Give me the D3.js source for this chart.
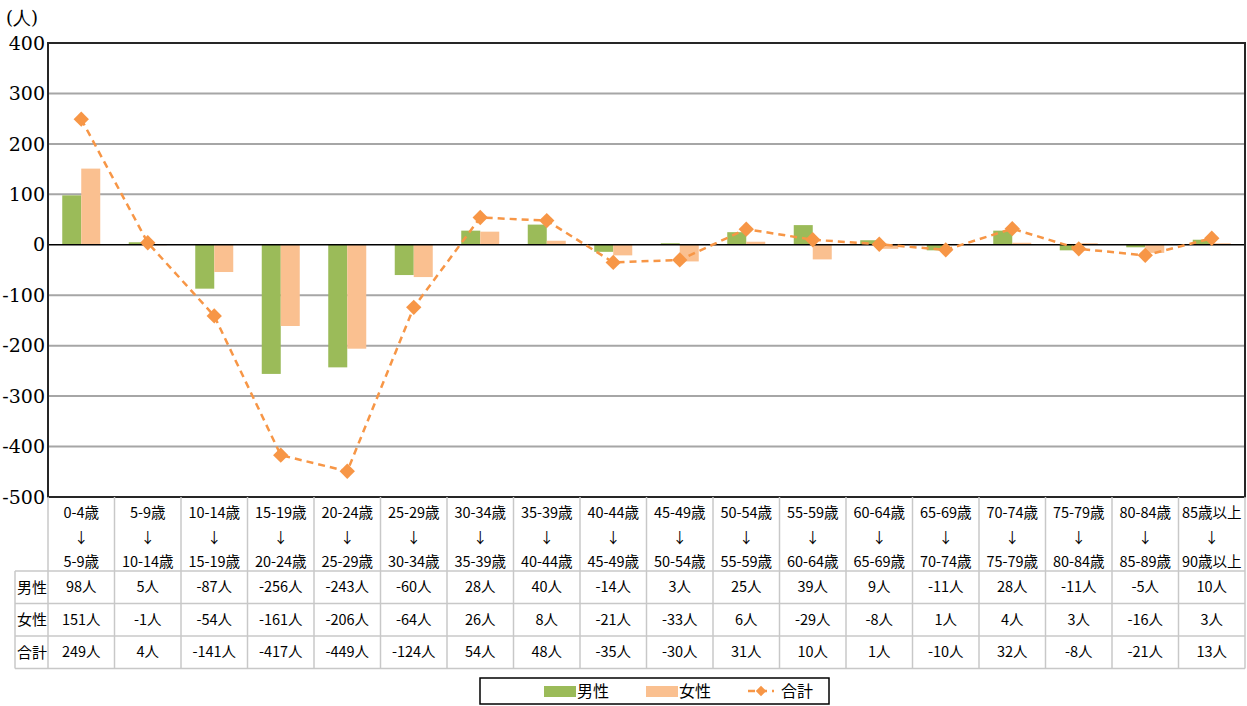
<!DOCTYPE html>
<html>
<head>
<meta charset="utf-8">
<script src="https://cdn.jsdelivr.net/npm/d3@7"></script>
<style>
  body { margin: 0; background: #fff; }
  svg { display: block; }
</style>
</head>
<body>
<svg id="chart" width="1247" height="706"></svg>
<script>
var categoriesFrom = ["0-4歳", "5-9歳", "10-14歳", "15-19歳", "20-24歳", "25-29歳", "30-34歳", "35-39歳", "40-44歳",
  "45-49歳", "50-54歳", "55-59歳", "60-64歳", "65-69歳", "70-74歳", "75-79歳", "80-84歳", "85歳以上"];
var categoriesTo = ["5-9歳", "10-14歳", "15-19歳", "20-24歳", "25-29歳", "30-34歳", "35-39歳", "40-44歳", "45-49歳",
  "50-54歳", "55-59歳", "60-64歳", "65-69歳", "70-74歳", "75-79歳", "80-84歳", "85-89歳", "90歳以上"];
var male = [98, 5, -87, -256, -243, -60, 28, 40, -14, 3, 25, 39, 9, -11, 28, -11, -5, 10];
var female = [151, -1, -54, -161, -206, -64, 26, 8, -21, -33, 6, -29, -8, 1, 4, 3, -16, 3];
var total = [249, 4, -141, -417, -449, -124, 54, 48, -35, -30, 31, 10, 1, -10, 32, -8, -21, 13];
var yTicks = [400, 300, 200, 100, 0, -100, -200, -300, -400, -500];
var rowNames = ["男性", "女性", "合計"];

var margin = { top: 43, right: 2, bottom: 209, left: 48 },
  width = 1247 - margin.left - margin.right,
  height = 706 - margin.top - margin.bottom;

var colGreen = "#9bbb59", colPeach = "#fac090", colLine = "#f79646";
var jp = "Noto Sans CJK JP";
var serifFont = "DejaVu Serif";

var svg = d3.select("#chart");
var g = svg.append("g").attr("transform", "translate(" + margin.left + "," + margin.top + ")");

var x = d3.scaleBand().domain(d3.range(categoriesFrom.length)).range([0, width]);
var y = d3.scaleLinear().domain([-500, 400]).range([height, 0]);
var barW = 19;

// gridlines
g.selectAll(".grid")
  .data(yTicks.filter(function(d) { return d !== 0 && d !== -500 && d !== 400; }))
  .enter().append("line")
  .attr("x1", 0).attr("x2", width)
  .attr("y1", function(d) { return y(d); }).attr("y2", function(d) { return y(d); })
  .attr("stroke", "#a6a6a6").attr("stroke-width", 2);

// y labels
g.selectAll(".ylab")
  .data(yTicks)
  .enter().append("text")
  .attr("font-family", serifFont)
  .attr("font-size", 19)
  .attr("x", -3)
  .attr("y", function(d) { return y(d); })
  .attr("dy", "0.35em")
  .attr("text-anchor", "end")
  .text(function(d) { return d; });

svg.append("text")
  .attr("font-family", serifFont)
  .attr("font-size", 18)
  .attr("x", 6).attr("y", 24)
  .text("(人)");

// bars
g.selectAll(".male")
  .data(male)
  .enter().append("rect")
  .attr("x", function(d, i) { return x(i) + x.bandwidth() / 2 - barW; })
  .attr("y", function(d) { return y(Math.max(0, d)); })
  .attr("width", barW)
  .attr("height", function(d) { return Math.abs(y(d) - y(0)); })
  .attr("fill", colGreen);

g.selectAll(".female")
  .data(female)
  .enter().append("rect")
  .attr("x", function(d, i) { return x(i) + x.bandwidth() / 2; })
  .attr("y", function(d) { return y(Math.max(0, d)); })
  .attr("width", barW)
  .attr("height", function(d) { return Math.abs(y(d) - y(0)); })
  .attr("fill", colPeach);

// zero line
g.append("line")
  .attr("x1", 0).attr("x2", width)
  .attr("y1", y(0)).attr("y2", y(0))
  .attr("stroke", "#000").attr("stroke-width", 1.5);

// total line
var line = d3.line()
  .x(function(d, i) { return x(i) + x.bandwidth() / 2; })
  .y(function(d) { return y(d); });

g.append("path")
  .datum(total)
  .attr("d", line)
  .attr("fill", "none")
  .attr("stroke", colLine)
  .attr("stroke-width", 2.5)
  .attr("stroke-dasharray", "7,5");

var diamond = d3.symbol().type(d3.symbolDiamond2).size(150);
g.selectAll(".pt")
  .data(total)
  .enter().append("path")
  .attr("d", diamond)
  .attr("transform", function(d, i) {
    return "translate(" + (x(i) + x.bandwidth() / 2) + "," + y(d) + ")";
  })
  .attr("fill", colLine);

// plot frame
g.append("rect")
  .attr("x", 0).attr("y", 0).attr("width", width).attr("height", height)
  .attr("fill", "none").attr("stroke", "#262626").attr("stroke-width", 2);

// data table
var headH = 74, rowH = 32.5;
var rowY = [headH, headH + rowH, headH + rowH * 2, headH + rowH * 3];
var tbl = g.append("g").attr("transform", "translate(0," + height + ")");
var gridCol = "#c8c8c8";

tbl.selectAll(".vline")
  .data(d3.range(categoriesFrom.length + 1))
  .enter().append("line")
  .attr("x1", function(i) { return i === categoriesFrom.length ? width : x(i); })
  .attr("x2", function(i) { return i === categoriesFrom.length ? width : x(i); })
  .attr("y1", 0).attr("y2", rowY[3])
  .attr("stroke", gridCol).attr("stroke-width", 1.5);

tbl.append("line")
  .attr("x1", -33).attr("x2", -33).attr("y1", rowY[0]).attr("y2", rowY[3])
  .attr("stroke", gridCol).attr("stroke-width", 1.5);

tbl.selectAll(".hline")
  .data(rowY)
  .enter().append("line")
  .attr("x1", -33).attr("x2", width)
  .attr("y1", function(d) { return d; }).attr("y2", function(d) { return d; })
  .attr("stroke", gridCol).attr("stroke-width", 1.5);

// header text
var head = tbl.selectAll(".head")
  .data(d3.range(categoriesFrom.length))
  .enter().append("g")
  .attr("transform", function(i) { return "translate(" + (x(i) + x.bandwidth() / 2) + ",0)"; })
  .attr("font-family", jp)
  .attr("font-size", 14.5)
  .attr("text-anchor", "middle");

head.append("text").attr("y", 21).text(function(i) { return categoriesFrom[i]; });
head.append("text").attr("y", 46).text("↓");
head.append("text").attr("y", 70).text(function(i) { return categoriesTo[i]; });

// rows
var series = [male, female, total];
series.forEach(function(vals, r) {
  var cy = (rowY[r] + rowY[r + 1]) / 2;
  tbl.append("text")
    .attr("x", -16).attr("y", cy).attr("dy", "0.35em")
    .attr("text-anchor", "middle")
    .attr("font-family", jp).attr("font-size", 15)
    .text(rowNames[r]);
  tbl.selectAll(".cell" + r)
    .data(vals)
    .enter().append("text")
    .attr("x", function(d, i) { return x(i) + x.bandwidth() / 2; })
    .attr("y", cy).attr("dy", "0.35em")
    .attr("text-anchor", "middle")
    .attr("font-family", jp).attr("font-size", 14.5)
    .text(function(d) { return d + "人"; });
});

// legend
var lg = svg.append("g").attr("transform", "translate(480,678)")
  .attr("font-family", jp).attr("font-size", 16);
lg.append("rect").attr("width", 349).attr("height", 26)
  .attr("fill", "#fff").attr("stroke", "#000").attr("stroke-width", 1.5);
lg.append("rect").attr("x", 64).attr("y", 8).attr("width", 32).attr("height", 11).attr("fill", colGreen);
lg.append("text").attr("x", 97).attr("y", 13).attr("dy", "0.35em").text("男性");
lg.append("rect").attr("x", 166).attr("y", 8).attr("width", 32).attr("height", 11).attr("fill", colPeach);
lg.append("text").attr("x", 199).attr("y", 13).attr("dy", "0.35em").text("女性");
lg.append("line").attr("x1", 268).attr("x2", 294).attr("y1", 13).attr("y2", 13)
  .attr("stroke", colLine).attr("stroke-width", 2.5).attr("stroke-dasharray", "7,5");
lg.append("path").attr("d", d3.symbol().type(d3.symbolDiamond2).size(70))
  .attr("transform", "translate(281,13)").attr("fill", colLine);
lg.append("text").attr("x", 301).attr("y", 13).attr("dy", "0.35em").text("合計");
</script>
</body>
</html>
